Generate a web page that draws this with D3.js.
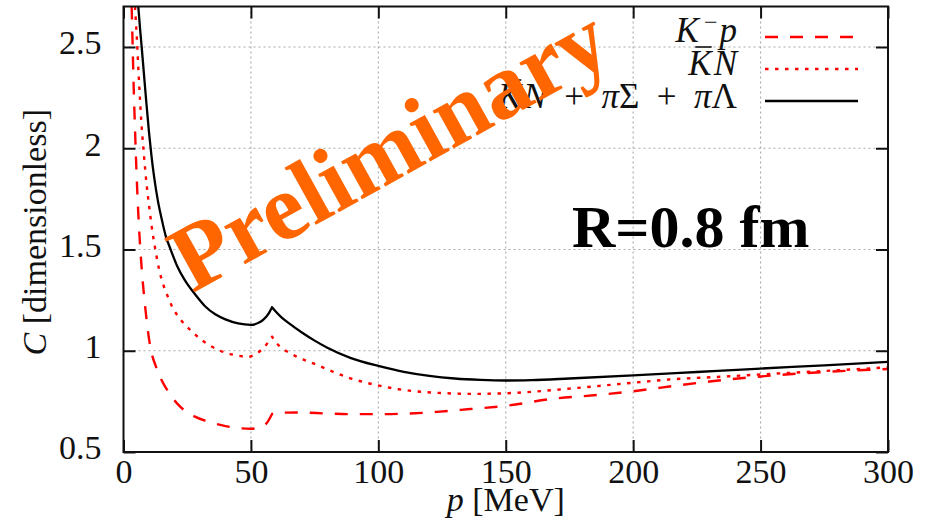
<!DOCTYPE html>
<html>
<head>
<meta charset="utf-8">
<script src="https://cdn.jsdelivr.net/npm/d3@7"></script>
<style>
  html, body { margin: 0; padding: 0; background: #fff; }
  svg text { font-family: "Liberation Serif", "DejaVu Serif", serif; }
</style>
</head>
<body>
<svg id="chart" width="931" height="525"></svg>
<script>
// Correlation function C(p) for R = 0.8 fm, three channel combinations.
// Momentum grid and values for each curve (the cusp sits at the K̄0 n threshold).
const cuspP = 58.3;

const kmpP = [3.2, 3.6, 4.0, 4.5, 5.2, 6, 7, 8, 9, 10, 11, 12.5, 14, 16, 18, 21, 24.5, 28, 32, 38, 45, 50, 53, 56, 58.3,
              60, 62, 69, 80, 90, 101, 112, 123, 136, 150, 168, 187, 200, 211, 230, 250, 275, 300];
const kmpC = [2.70, 2.50, 2.30, 2.10, 1.85, 1.63, 1.43, 1.28, 1.16, 1.06, 0.99, 0.93, 0.88, 0.83, 0.79, 0.74, 0.70, 0.675, 0.655, 0.634, 0.618, 0.615, 0.62, 0.64, 0.688,
              0.692, 0.694, 0.695, 0.69, 0.687, 0.687, 0.69, 0.698, 0.712, 0.728, 0.762, 0.783, 0.80, 0.818, 0.848, 0.873, 0.895, 0.91];

const kbarNP = [4.5, 5.2, 6, 7, 8, 9, 10, 11, 12.5, 14, 15.5, 17, 19, 22, 26, 31, 37, 44, 49, 52, 55, 58.3,
                59.5, 61.5, 65, 69, 75, 80, 89, 98, 108, 117, 127, 136, 150, 165, 175, 200, 214, 235, 250, 275, 300];
const kbarNC = [2.70, 2.55, 2.35, 2.13, 1.97, 1.83, 1.72, 1.62, 1.50, 1.40, 1.33, 1.28, 1.22, 1.16, 1.105, 1.05, 1.005, 0.978, 0.97, 0.985, 1.015, 1.07,
                1.045, 1.02, 0.99, 0.965, 0.935, 0.908, 0.864, 0.834, 0.81, 0.797, 0.79, 0.787, 0.79, 0.802, 0.813, 0.842, 0.858, 0.872, 0.883, 0.90, 0.918];

const totalP = [5.8, 6.5, 7.2, 8, 9, 10, 11, 12, 13.5, 15, 16.5, 18.5, 21, 24, 28, 32, 36, 40, 45, 50, 53, 55, 57, 58.3,
                60, 62, 65, 70, 75, 80, 89, 100, 110, 120, 130, 140, 150, 160, 175, 200, 225, 250, 275, 300];
const totalC = [2.70, 2.59, 2.49, 2.37, 2.22, 2.08, 1.96, 1.86, 1.74, 1.65, 1.57, 1.50, 1.42, 1.35, 1.28, 1.22, 1.18, 1.155, 1.135, 1.128, 1.138, 1.155, 1.185, 1.215,
                1.19, 1.165, 1.135, 1.09, 1.05, 1.015, 0.965, 0.925, 0.896, 0.876, 0.863, 0.856, 0.853, 0.855, 0.863, 0.878, 0.895, 0.912, 0.928, 0.945];

const xTicks = [0, 50, 100, 150, 200, 250, 300];
const yTicks = [0.5, 1, 1.5, 2, 2.5];

const xLabel = "[MeV]";
const yLabel = "[dimensionless]";
const radiusLabel = "R=0.8 fm";
const stampLabel = "Preliminary";

// ---- layout ----
const W = 931, H = 525;
const margin = { left: 123.5, right: 43, top: 6.5, bottom: 73 };
const plotW = W - margin.left - margin.right;
const plotH = H - margin.top - margin.bottom;
const serif = "'Liberation Serif', 'DejaVu Serif', serif";

const svg = d3.select("#chart");
const g = svg.append("g").attr("transform", `translate(${margin.left},${margin.top})`);

const x = d3.scaleLinear().domain([0, 300]).range([0, plotW]);
const y = d3.scaleLinear().domain([0.5, 2.7]).range([plotH, 0]);

// grid
const grid = g.append("g").attr("stroke", "#a8a8a8").attr("stroke-width", 1.1)
  .attr("stroke-dasharray", "2,3");
grid.selectAll("line.gx").data(xTicks.slice(1, -1)).join("line")
  .attr("x1", d => x(d)).attr("x2", d => x(d)).attr("y1", 0).attr("y2", plotH);
grid.selectAll("line.gy").data(yTicks.slice(1)).join("line")
  .attr("x1", 0).attr("x2", plotW).attr("y1", d => y(d)).attr("y2", d => y(d));

// curves
svg.append("defs").append("clipPath").attr("id", "plotClip")
  .append("rect").attr("width", plotW).attr("height", plotH);

const line = d3.line().x(d => x(d[0])).y(d => y(d[1])).curve(d3.curveMonotoneX);
function curvePath(ps, cs) {
  const pts = ps.map((p, i) => [p, cs[i]]);
  const left = pts.filter(d => d[0] <= cuspP);
  const right = pts.filter(d => d[0] >= cuspP);
  return line(left) + line(right).replace(/^M[^LC]*/, "L" + x(cuspP) + "," + y(right[0][1]));
}

const series = [
  { name: "kmp", ps: kmpP, cs: kmpC, color: "#ff0000", dash: "13,12" },
  { name: "kbarN", ps: kbarNP, cs: kbarNC, color: "#ff0000", dash: "3.5,6.5" },
  { name: "total", ps: totalP, cs: totalC, color: "#000000", dash: null }
];

const curves = g.append("g").attr("clip-path", "url(#plotClip)");
curves.selectAll("path").data(series).join("path")
  .attr("d", d => curvePath(d.ps, d.cs))
  .attr("fill", "none")
  .attr("stroke", d => d.color)
  .attr("stroke-width", d => d.name === "total" ? 2.3 : 2.4)
  .attr("stroke-dasharray", d => d.dash)
  .attr("stroke-linejoin", "round");

// axes with inward ticks
const fmt = d3.format("~g");
const axB = g.append("g").attr("transform", `translate(0,${plotH})`)
  .call(d3.axisBottom(x).tickValues(xTicks).tickSizeInner(-12).tickSizeOuter(0).tickPadding(7).tickFormat(fmt));
const axL = g.append("g")
  .call(d3.axisLeft(y).tickValues(yTicks).tickSizeInner(-12).tickSizeOuter(0).tickPadding(22).tickFormat(fmt));
const axT = g.append("g")
  .call(d3.axisTop(x).tickValues(xTicks).tickSizeInner(-12).tickSizeOuter(0).tickFormat(""));
const axR = g.append("g").attr("transform", `translate(${plotW},0)`)
  .call(d3.axisRight(y).tickValues(yTicks).tickSizeInner(-12).tickSizeOuter(0).tickFormat(""));

[axB, axL, axT, axR].forEach(a => {
  a.attr("font-family", serif);
  a.select(".domain").remove();
  a.selectAll(".tick line").attr("stroke", "#111").attr("stroke-width", 2);
  a.selectAll(".tick text").attr("fill", "#111").attr("font-size", 34);
});
axL.selectAll(".tick text").attr("dy", "0.2em");

// frame
g.append("rect").attr("width", plotW).attr("height", plotH)
  .attr("fill", "none").attr("stroke", "#111").attr("stroke-width", 2);

// axis titles
const xt = svg.append("text").attr("x", margin.left + plotW / 2).attr("y", 511)
  .attr("text-anchor", "middle").attr("font-size", 34).attr("fill", "#111")
  .attr("font-family", serif);
xt.append("tspan").attr("font-style", "italic").text("p");
xt.append("tspan").text(" " + xLabel);

const yt = svg.append("text")
  .attr("transform", `translate(46,${margin.top + plotH / 2 + 3}) rotate(-90)`)
  .attr("text-anchor", "middle").attr("font-size", 34).attr("fill", "#111")
  .attr("font-family", serif);
yt.append("tspan").attr("font-style", "italic").text("C");
yt.append("tspan").text(" " + yLabel);

// legend
const legend = svg.append("g").attr("font-family", serif);
const sp = "\u2002";
const legendRows = [
  { parts: [{ t: "K", it: true }, { t: "\u2212", sup: true, dx: 5 }, { t: "p", it: true, dx: 2 }], series: series[0], yb: 42, yl: 37 },
  { parts: [{ t: "K", it: true, bar: true }, { t: "N", it: true, dx: 2 }], series: series[1], yb: 75, yl: 69 },
  { parts: [{ t: "K", it: true, bar: true }, { t: "N", it: true, dx: 2 }, { t: sp + "+" + sp }, { t: "\u03c0", it: true }, { t: "\u03a3" },
            { t: sp + "+" + sp }, { t: "\u03c0", it: true }, { t: "\u039b" }], series: series[2], yb: 108, yl: 101 }
];
legendRows.forEach(row => {
  const txt = legend.append("text").attr("x", 737).attr("y", row.yb)
    .attr("text-anchor", "end").attr("font-size", 35).attr("fill", "#111");
  row.parts.forEach(p => {
    const ts = txt.append("tspan").text(p.t);
    if (p.it) ts.attr("font-style", "italic");
    if (p.dx) ts.attr("dx", p.dx);
    if (p.sup) ts.attr("font-size", 24).attr("baseline-shift", "50%");
  });
  // overbar for K̄
  const node = txt.node();
  row.parts.forEach((p, i) => {
    if (!p.bar) return;
    let idx = 0;
    for (let k = 0; k < i; k++) idx += row.parts[k].t.length;
    const ext = node.getExtentOfChar(idx);
    legend.append("line")
      .attr("x1", ext.x + ext.width * 0.3).attr("x2", ext.x + ext.width * 1.0)
      .attr("y1", row.yb - 28).attr("y2", row.yb - 28)
      .attr("stroke", "#111").attr("stroke-width", 1.6);
  });
  legend.append("line").attr("x1", 765).attr("x2", 858)
    .attr("y1", row.yl).attr("y2", row.yl)
    .attr("stroke", row.series.color).attr("stroke-width", 2.4)
    .attr("stroke-dasharray", row.series.dash);
});

// annotations
svg.append("text").attr("x", 572).attr("y", 247)
  .attr("font-size", 60).attr("font-weight", "bold").attr("fill", "#000")
  .attr("font-family", "'Liberation Serif', serif")
  .text(radiusLabel);

svg.append("text")
  .attr("transform", "translate(404,176) rotate(-29)")
  .attr("text-anchor", "middle")
  .attr("font-size", 94).attr("font-weight", "bold").attr("fill", "#ff6600")
  .attr("font-family", "'Liberation Serif', serif")
  .text(stampLabel);
</script>
</body>
</html>
